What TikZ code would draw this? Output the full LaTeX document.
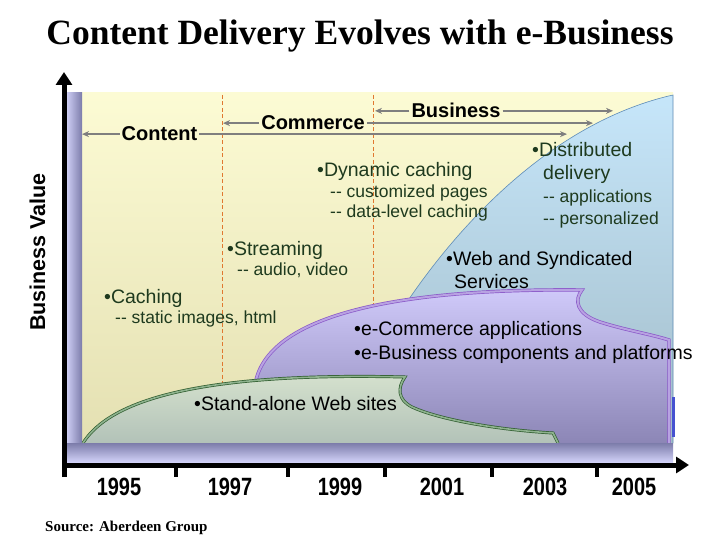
\documentclass[tikz,border=0pt]{standalone}
\usepackage{fontspec}
\usepackage{graphicx}
\newfontfamily\arial{Liberation Sans}
\newfontfamily\timesf{Liberation Serif}
\usetikzlibrary{arrows.meta}
\definecolor{bgtop}{HTML}{FCFBD4}
\definecolor{bgbot}{HTML}{E4E0B2}
\definecolor{bluetop}{HTML}{C6E6FA}
\definecolor{bluebot}{HTML}{A2BCC8}
\definecolor{blueedge}{HTML}{5E8CB8}
\definecolor{purtop}{HTML}{D0CAFA}
\definecolor{purbot}{HTML}{8C86B6}
\definecolor{puredge}{HTML}{8A58C8}
\definecolor{purband}{HTML}{B8A2E2}
\definecolor{grntop}{HTML}{D6E2CE}
\definecolor{grnbot}{HTML}{B2C2B8}
\definecolor{grnedge}{HTML}{2E5C2E}
\definecolor{grnband}{HTML}{8EB28E}
\definecolor{dashc}{HTML}{E07830}
\definecolor{arrowgray}{HTML}{7F7F7F}
\definecolor{dkgreen}{HTML}{1E3A1E}
\definecolor{barlight}{HTML}{D2D2F8}
\definecolor{bardark}{HTML}{7C7CAA}
\definecolor{brightblue}{HTML}{4652D0}
\begin{document}
\begin{tikzpicture}[x=1pt,y=-1pt,
  itemtxt/.style={anchor=base west,inner sep=0pt,font=\arial\fontsize{19.5}{22}\selectfont,text=dkgreen},
  subtxt/.style={itemtxt,font=\arial\fontsize{17.5}{20}\selectfont},
  blktxt/.style={itemtxt,text=black},
  lbl/.style={anchor=base,inner ysep=0pt,inner xsep=2pt,font=\arial\bfseries\fontsize{20}{22}\selectfont},
  garrow/.style={draw=arrowgray,line width=1.8pt,-{Stealth[length=7pt,width=6pt]}},
  dashline/.style={draw=dashc,line width=0.8pt,dash pattern=on 4pt off 2.5pt},
  axisline/.style={draw=black,line width=5pt},
  tickline/.style={draw=black,line width=4pt},
  yearlbl/.style={anchor=base,inner sep=0pt,font=\arial\bfseries\fontsize{25}{27}\selectfont},
  puredgestyle/.style={draw=puredge,line width=0.7pt,double=purband,double distance=2pt},
  grnedgestyle/.style={draw=grnedge,line width=0.7pt,double=grnband,double distance=1.6pt}]
\useasboundingbox (0,0) rectangle (720,540);

% title
\node[anchor=base,inner sep=0pt,font=\timesf\bfseries\fontsize{35.5}{38}\selectfont] (title) at (360,45) {Content Delivery Evolves with e-Business};

% background panel
\shade[top color=bgtop,bottom color=bgbot] (82,93) rectangle (673,443);

% dashed era separators
\draw[dashline] (222,95) -- (222,443);
\draw[dashline] (373,95) -- (373,443);

% blue region
\path[top color=bluetop,bottom color=bluebot] (405,305) .. controls (445,245) and (540,125) .. (673,95) -- (673,443) -- (405,443) -- cycle;
\draw[blueedge,line width=0.6pt] (405,305) .. controls (445,245) and (540,125) .. (673,95) -- (673,443);
\fill[brightblue] (671.5,397) rectangle (675,437);

% purple region
\path[top color=purtop,bottom color=purbot] (255,385) .. controls (265,320) and (380,288) .. (582,290) .. controls (574,300) and (576,314) .. (600,322) .. controls (625,330) and (650,334) .. (669,340) -- (669,443) -- (255,443) -- cycle;
\draw[puredgestyle] (255,385) .. controls (265,320) and (380,288) .. (582,290) .. controls (574,300) and (576,314) .. (600,322) .. controls (625,330) and (650,334) .. (669,340) -- (669,443);

% green region
\path[top color=grntop,bottom color=grnbot] (83,443) .. controls (110,400) and (200,372) .. (405,377) .. controls (397,388) and (398,400) .. (412,407) .. controls (440,420) and (500,430) .. (553,433) -- (558,443) -- cycle;
\draw[grnedgestyle] (83,443) .. controls (110,400) and (200,372) .. (405,377) .. controls (397,388) and (398,400) .. (412,407) .. controls (440,420) and (500,430) .. (553,433) -- (558,443);

% era arrows
\coordinate (contentL) at (82,133);
\coordinate (contentR) at (567,133);
\coordinate (commerceL) at (223,123);
\coordinate (commerceR) at (593,123);
\coordinate (businessL) at (375,112);
\coordinate (businessR) at (613,112);
\node[lbl] (content) at (159.5,141) {Content};
\node[lbl] (commerce) at (313,130) {Commerce};
\node[lbl] (business) at (456,118) {Business};
\draw[garrow] (content.west) -- (content.west -| contentL);
\draw[garrow] (content.east) -- (content.east -| contentR);
\draw[garrow] (commerce.west) -- (commerce.west -| commerceL);
\draw[garrow] (commerce.east) -- (commerce.east -| commerceR);
\draw[garrow] (business.west) -- (business.west -| businessL);
\draw[garrow] (business.east) -- (business.east -| businessR);

% text items
\node[itemtxt] (dyn) at (317,177) {•Dynamic caching};
\node[subtxt] (dyn1) at (330,198) {-{}- customized pages};
\node[subtxt] (dyn2) at (330,218) {-{}- data-level caching};
\node[itemtxt] (dist) at (532,157) {•Distributed};
\node[itemtxt] (dist0) at (543,180) {delivery};
\node[subtxt] (dist1) at (543,203) {-{}- applications};
\node[subtxt] (dist2) at (543,225) {-{}- personalized};
\node[itemtxt] (stream) at (227,255) {•Streaming};
\node[subtxt] (stream1) at (237,275) {-{}- audio, video};
\node[itemtxt] (cach) at (104,303) {•Caching};
\node[subtxt] (cach1) at (115,323) {-{}- static images, html};
\node[blktxt] (web) at (446,265) {•Web and Syndicated};
\node[blktxt] (web1) at (454,288) {Services};
\node[blktxt] (ecom) at (354,335) {•e-Commerce applications};
\node[blktxt] (ebus) at (354,359) {•e-Business components and platforms};
\node[blktxt] (stand) at (194,410) {•Stand-alone Web sites};

% bars
\shade[left color=barlight,right color=bardark] (66,93) rectangle (82,444);
\shade[top color=bardark,bottom color=barlight] (66,443) rectangle (673,462);

% axes
\draw[axisline,-{Triangle[length=13pt,width=16pt]}] (64,477) -- (64,72);
\draw[axisline,-{Triangle[length=13pt,width=16pt]}] (62,465) -- (689,465);
\foreach \tx in {176,288,385,492,597} {
  \draw[tickline] (\tx,465) -- (\tx,477);
}

% year labels
\node[yearlbl] (y1995) at (119,495) {\scalebox{0.8}[1]{1995}};
\node[yearlbl] (y1997) at (230,495) {\scalebox{0.8}[1]{1997}};
\node[yearlbl] (y1999) at (340,495) {\scalebox{0.8}[1]{1999}};
\node[yearlbl] (y2001) at (442,495) {\scalebox{0.8}[1]{2001}};
\node[yearlbl] (y2003) at (545,495) {\scalebox{0.8}[1]{2003}};
\node[yearlbl] (y2005) at (634,495) {\scalebox{0.8}[1]{2005}};

% y axis label
\node[rotate=90,inner sep=0pt,font=\arial\bfseries\fontsize{21.5}{24}\selectfont] (yl) at (37.5,252) {Business Value};

% source
\node[anchor=base west,inner sep=0pt,font=\timesf\bfseries\fontsize{15}{17}\selectfont] (src) at (45,531) {Source: Aberdeen Group};
\end{tikzpicture}
\end{document}
